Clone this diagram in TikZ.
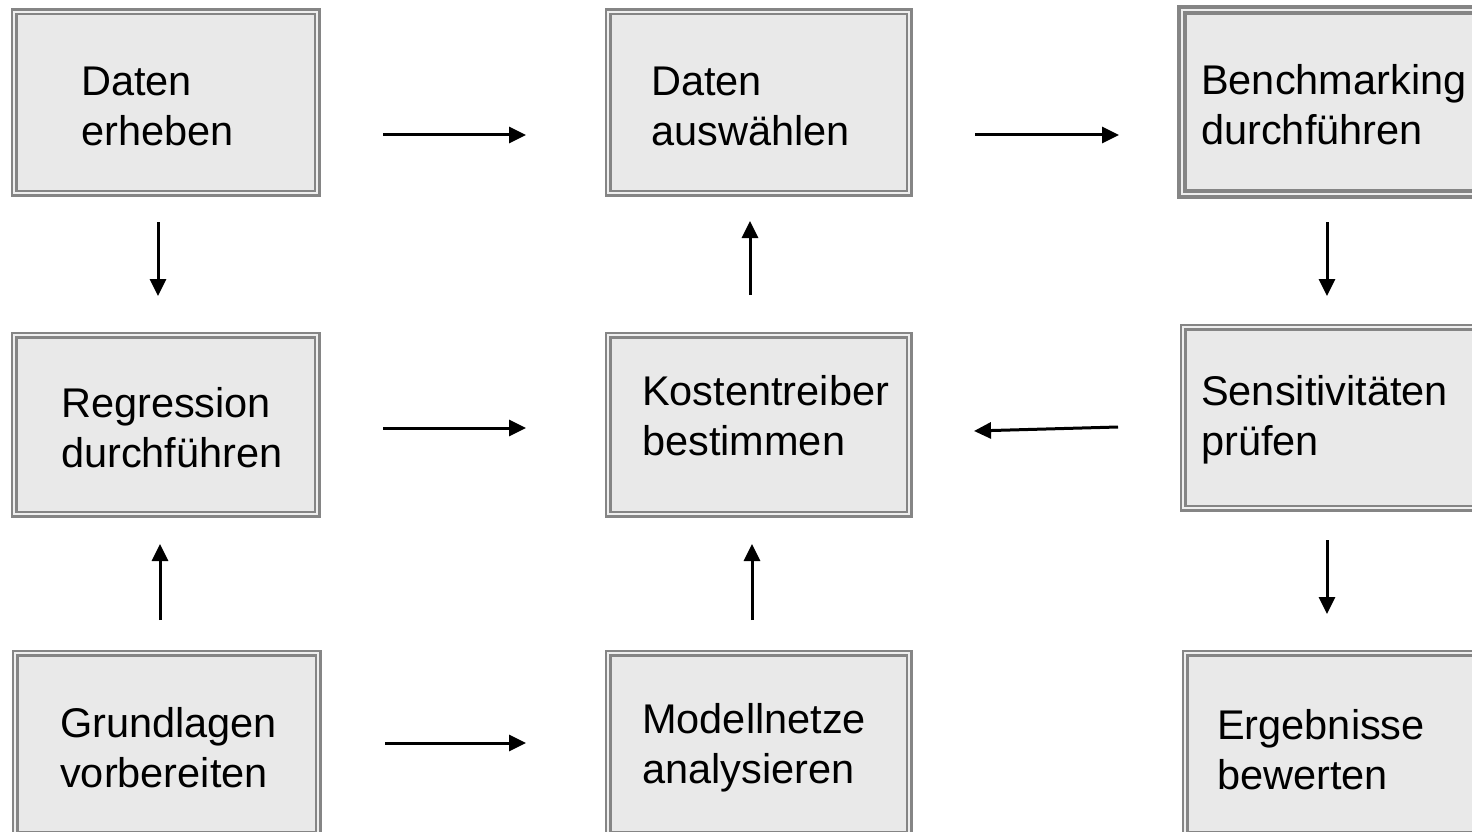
\documentclass[tikz,border=0pt]{standalone}
\usepackage{fontspec}
\setmainfont{Liberation Sans}
\usetikzlibrary{arrows.meta}
\definecolor{boxfill}{HTML}{E9E9E9}
\definecolor{boxline}{HTML}{858585}
\definecolor{boxgap}{HTML}{EFEFEF}
\tikzset{
  pbox/.style={draw=boxline, double=boxgap, double distance=2pt, line width=2.5pt,
    fill=boxfill, rectangle, inner sep=0pt},
  pboxthick/.style={draw=boxline, double=boxgap, double distance=2.5pt, line width=4pt,
    fill=boxfill, rectangle, inner sep=0pt},
  lbl/.style={anchor=base west, inner sep=0pt, font=\fontsize{41.5}{50}\selectfont},
  flow/.style={line width=3pt, -{Triangle[length=17pt,width=16pt]}},
}
\newcommand{\twolines}[2]{\begin{tabular}[t]{@{}l@{}}#1\\#2\end{tabular}}
\begin{document}
\begin{tikzpicture}[x=1pt,y=-1pt]
\useasboundingbox (0,0) rectangle (1472,832);
\clip (0,0) rectangle (1472,832);
\fill[white] (0,0) rectangle (1472,832);
% boxes
\node[pbox, minimum width=303pt, minimum height=181pt] (b1) at (165.5,102.5) {};
\node[pbox, minimum width=301pt, minimum height=181pt] (b2) at (758.5,102.5) {};
\node[pboxthick, minimum width=296pt, minimum height=184pt] (b3) at (1330,102) {};
\node[pbox, minimum width=303pt, minimum height=179pt] (b4) at (165.5,424.5) {};
\node[pbox, minimum width=301pt, minimum height=179pt] (b5) at (758.5,424.5) {};
\node[pbox, minimum width=293pt, minimum height=181pt] (b6) at (1329.5,417.5) {};
\node[pbox, minimum width=303pt, minimum height=181pt] (b7) at (166.5,743.5) {};
\node[pbox, minimum width=301pt, minimum height=181pt] (b8) at (758.5,743.5) {};
\node[pbox, minimum width=295pt, minimum height=181pt] (b9) at (1332.5,743.5) {};
% labels
\node[lbl] (t1) at (81,96) {\twolines{Daten}{erheben}};
\node[lbl] (t2) at (651,96) {\twolines{Daten}{auswählen}};
\node[lbl] (t3) at (1201,95) {\twolines{Benchmarking}{durchführen}};
\node[lbl] (t4) at (61,417) {\twolines{Regression}{durchführen}};
\node[lbl] (t5) at (642,405) {\twolines{Kostentreiber}{bestimmen}};
\node[lbl] (t6) at (1201,405) {\twolines{Sensitivitäten}{prüfen}};
\node[lbl] (t7) at (60,737) {\twolines{Grundlagen}{vorbereiten}};
\node[lbl] (t8) at (642,733) {\twolines{Modellnetze}{analysieren}};
\node[lbl] (t9) at (1217,739) {\twolines{Ergebnisse}{bewerten}};
% arrow end points
\coordinate (a1s) at (383,135); \coordinate (a1e) at (526,135);
\coordinate (a2s) at (975,135); \coordinate (a2e) at (1119,135);
\coordinate (a3s) at (158,222); \coordinate (a3e) at (158,296);
\coordinate (a4s) at (750,295); \coordinate (a4e) at (750,221);
\coordinate (a5s) at (1327,222); \coordinate (a5e) at (1327,296);
\coordinate (a6s) at (383,428); \coordinate (a6e) at (526,428);
\coordinate (a7s) at (1118,427); \coordinate (a7e) at (974,431);
\coordinate (a8s) at (160,620); \coordinate (a8e) at (160,544);
\coordinate (a9s) at (752,620); \coordinate (a9e) at (752,544);
\coordinate (a10s) at (1327,540); \coordinate (a10e) at (1327,614);
\coordinate (a11s) at (385,743); \coordinate (a11e) at (526,743);
\foreach \i in {1,...,11} {\draw[flow] (a\i s) -- (a\i e);}
\end{tikzpicture}
\end{document}
